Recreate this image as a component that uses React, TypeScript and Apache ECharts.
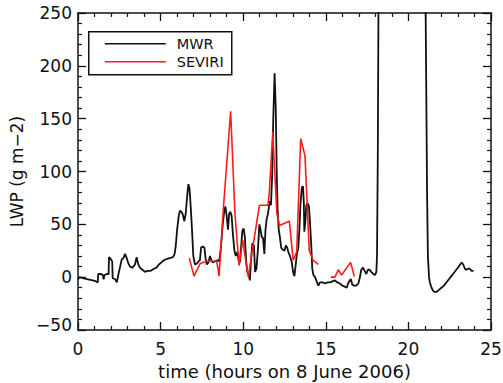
import React, { useEffect, useRef } from "react";
import * as echarts from "echarts";

const mwrTime = [
  0.0, 0.1, 0.3, 0.6, 0.9, 1.1, 1.2, 1.22, 1.4, 1.5, 1.55, 1.6, 1.75, 1.85, 1.88, 1.95, 2.02, 2.07, 2.1, 2.25,
  2.35, 2.45, 2.55, 2.65, 2.75, 2.85, 2.95, 3.05, 3.15, 3.3, 3.45, 3.55, 3.65, 3.75, 3.9, 4.05, 4.2, 4.4, 4.6, 4.75,
  4.9, 5.05, 5.2, 5.35, 5.55, 5.75, 5.85, 5.92, 6.0, 6.1, 6.17, 6.25, 6.33, 6.44, 6.52, 6.6, 6.68, 6.75, 6.83, 6.9,
  6.98, 7.08, 7.2, 7.3, 7.38, 7.45, 7.55, 7.65, 7.72, 7.8, 7.9, 7.99, 8.05, 8.15, 8.3, 8.45, 8.55, 8.65, 8.75, 8.85,
  8.92, 9.0, 9.08, 9.15, 9.22, 9.3, 9.38, 9.47, 9.55, 9.65, 9.72, 9.8, 9.88, 9.95, 10.03, 10.1, 10.18, 10.25, 10.35, 10.4,
  10.47, 10.55, 10.65, 10.72, 10.8, 10.9, 10.98, 11.05, 11.12, 11.2, 11.28, 11.35, 11.42, 11.5, 11.6, 11.68, 11.75, 11.82, 11.9, 11.97,
  12.03, 12.08, 12.15, 12.22, 12.3, 12.4, 12.5, 12.58, 12.66, 12.73, 12.83, 12.93, 13.02, 13.1, 13.18, 13.25, 13.33, 13.4, 13.47, 13.55,
  13.62, 13.67, 13.7, 13.76, 13.82, 13.9, 13.98, 14.05, 14.12, 14.18, 14.25, 14.35, 14.45, 14.55, 14.65, 14.8, 14.95, 15.1, 15.25, 15.4,
  15.55, 15.7, 15.85, 16.0, 16.15, 16.26, 16.35, 16.45, 16.52, 16.6, 16.7, 16.85, 16.97, 17.05, 17.15, 17.25, 17.35, 17.45, 17.55, 17.65,
  17.75, 17.88, 17.98, 18.06, 18.1, 18.15, 18.2, 18.3, 20.95, 21.03, 21.08, 21.13, 21.18, 21.25, 21.3, 21.4, 21.5, 21.6, 21.7, 21.85,
  22.0, 22.15, 22.3, 22.45, 22.6, 22.75, 22.9, 23.05, 23.22, 23.32, 23.42, 23.5, 23.6, 23.72, 23.82, 23.95,
];
const mwrValue = [
  -2, 0, -1, -2, -3, -4, -5, 3, 3, 2, -2, 2, 3, 3, 19, 18, 16, 15, -1, -2,
  -5, 3, 10, 17, 18, 22, 18, 13, 10, 9, 12, 19, 12, 9, 7, 5, 6, 6, 8, 9,
  12, 14, 16, 17, 18, 19, 22, 30, 45, 58, 63, 62, 60, 53, 60, 75, 88, 84, 65, 45,
  20, 12, 13, 15, 16, 28, 29, 28, 18, 12, 14, 20, 17, 14, 15, 16, 15, 28, 48, 62,
  67, 58, 45, 60, 62, 58, 40, 25, 20, 24, 16, 14, 30, 44, 46, 38, 15, 5, 2, -3,
  15, 32, 30, 5, 8, 28, 50, 45, 38, 37, 22, 45, 55, 60, 72, 68, 95, 150, 193, 160,
  100, 65, 45, 38, 28, 26, 25, 30, 28, 24, 20, 15, 5, 1, 12, 22, 27, 45, 70, 85,
  86, 70, 43, 52, 68, 70, 67, 50, 30, 8, 2, 0, -4, -8, -5, -5, -6, -5, -5, -4,
  -3, -5, -6, -8, -9, -10, -6, -3, -2, -7, -8, -8, -6, -1, 7, 9, 6, 3, 7, 7,
  5, 3, 2, 5, 20, 120, 300, 500, 500, 280, 180, 80, 20, 0, -5, -10, -13, -14, -14, -12,
  -10, -8, -5, -2, 1, 4, 7, 10, 14, 12, 8, 7, 8, 8, 6, 6,
];

const seviriTime = [
  6.74, 7.02, 7.4, 7.8, 8.2, 8.4, 8.54, 8.8, 9.24, 9.5, 9.75, 9.97, 10.31, 10.52, 10.98, 11.22, 11.5, 11.58, 11.79, 12.04,
  12.19, 12.79, 13.03, 13.24, 13.48, 13.74, 14.0, 14.24, 14.55, 14.9, 15.3, 15.55, 15.76, 15.96, 16.5, 16.73,
];
const seviriValue: (number | string)[] = [
  18, 1, 13, 15, 15, 15, 1, 65, 157, 60, 11, 35, 0, 22, 68, 68, 68, 80, 137, 60,
  49, 53, 16, 24, 131, 115, 25, 16, 12, "-", 0, 0, 7, 2, 14, 0.5,
];

const xTicks = [0, 25, 5];
const yTicks = [-50, 250, 50];
const seriesNames = ["MWR", "SEVIRI"];
const xTitle = "time (hours on 8 June 2006)";
const yTitle = "LWP (g m\u22122)";

const FONT = "DejaVu Sans";

export default function App() {
  const ref = useRef<HTMLDivElement>(null);
  useEffect(() => {
    if (!ref.current) return;
    const chart = echarts.init(ref.current, undefined, { renderer: "svg" });
    const fmt = (v: number) => (v < 0 ? "\u2212" + Math.abs(v) : String(v));
    const fmtY = (v: number) => (v === yTicks[0] ? "{lo|" + fmt(v) + "}" : fmt(v));
    const axisCommon = {
      axisLine: { show: true, onZero: false, lineStyle: { color: "#111", width: 1.5 } },
      axisTick: { show: true, inside: true, length: 8, lineStyle: { color: "#111", width: 1.3 } },
      minorTick: { show: true, splitNumber: 5, length: 4, lineStyle: { color: "#111", width: 1.2 } },
      splitLine: { show: false },
      minorSplitLine: { show: false },
    };
    const xBase = { type: "value" as const, min: xTicks[0], max: xTicks[1], interval: xTicks[2], ...axisCommon };
    const yBase = { type: "value" as const, min: yTicks[0], max: yTicks[1], interval: yTicks[2], ...axisCommon };
    chart.setOption({
      animation: false,
      backgroundColor: "#fff",
      grid: { left: 78, right: 12, top: 13, bottom: 53, containLabel: false, outerBoundsMode: "none" },
      xAxis: [
        {
          ...xBase,
          position: "bottom",
          axisLabel: { show: true, color: "#111", fontSize: 17, fontFamily: FONT, margin: 10, formatter: fmt },
          name: xTitle,
          nameLocation: "middle",
          nameGap: 32,
          nameTextStyle: { color: "#111", fontSize: 18, fontFamily: FONT },
        },
        { ...xBase, position: "top", axisLabel: { show: false } },
      ],
      yAxis: [
        {
          ...yBase,
          position: "left",
          axisLabel: {
            show: true, color: "#111", fontSize: 17, fontFamily: FONT, margin: 6, formatter: fmtY,
            rich: { lo: { color: "#111", fontSize: 17, fontFamily: FONT, padding: [0, 0, 10, 0] } },
          },
          name: yTitle,
          nameLocation: "middle",
          nameGap: 50,
          nameRotate: 90,
          nameTextStyle: { color: "#111", fontSize: 17, fontFamily: FONT },
        },
        { ...yBase, position: "right", axisLabel: { show: false } },
      ],
      series: [
        {
          name: seriesNames[0],
          type: "line",
          xAxisIndex: 0,
          yAxisIndex: 0,
          data: mwrTime.map((t, i) => [t, mwrValue[i]]),
          symbol: "none",
          clip: true,
          lineStyle: { color: "#111", width: 1.8 },
        },
        {
          name: seriesNames[1],
          type: "line",
          xAxisIndex: 0,
          yAxisIndex: 0,
          data: seviriTime.map((t, i) => [t, seviriValue[i]]),
          symbol: "none",
          clip: true,
          connectNulls: false,
          lineStyle: { color: "#ff1a1a", width: 1.6 },
        },
      ],
      graphic: [
        {
          type: "group",
          left: 88,
          top: 31,
          children: [
            { type: "rect", shape: { x: 0, y: 0, width: 143, height: 43 }, style: { fill: "#fff", stroke: "#111", lineWidth: 1.5 } },
            { type: "line", shape: { x1: 16, y1: 12, x2: 77, y2: 12 }, style: { stroke: "#111", lineWidth: 1.5 } },
            { type: "line", shape: { x1: 16, y1: 30, x2: 77, y2: 30 }, style: { stroke: "#ff1a1a", lineWidth: 1.5 } },
            { type: "text", x: 88, y: 12, style: { text: seriesNames[0], fontSize: 14.5, fontFamily: FONT, fill: "#111", verticalAlign: "middle" } },
            { type: "text", x: 88, y: 30, style: { text: seriesNames[1], fontSize: 14.5, fontFamily: FONT, fill: "#111", verticalAlign: "middle" } },
          ],
        },
      ],
    });
    return () => chart.dispose();
  }, []);
  return <div ref={ref} style={{ position: "fixed", left: 0, top: 0, width: 503, height: 383 }} />;
}
